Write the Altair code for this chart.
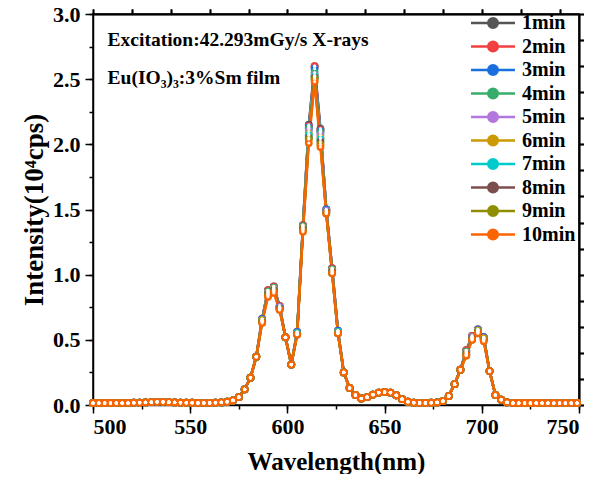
import altair as alt
import pandas as pd

wavelengths = list(range(500, 750, 3))
base_10min = [
    0.015, 0.015, 0.015, 0.015, 0.015, 0.015, 0.015, 0.017, 0.018, 0.020,
    0.022, 0.024, 0.024, 0.022, 0.020, 0.018, 0.017, 0.017, 0.016, 0.016,
    0.016, 0.017, 0.020, 0.025, 0.035, 0.060, 0.120, 0.210, 0.370, 0.630,
    0.830, 0.860, 0.730, 0.520, 0.310, 0.540, 1.330, 2.010, 2.480, 1.980,
    1.470, 1.010, 0.550, 0.250, 0.130, 0.077, 0.050, 0.060, 0.080, 0.095,
    0.100, 0.095, 0.075, 0.045, 0.025, 0.018, 0.016, 0.016, 0.017, 0.020,
    0.030, 0.070, 0.160, 0.270, 0.380, 0.500, 0.550, 0.490, 0.260, 0.077,
    0.040, 0.020, 0.015, 0.015, 0.015, 0.015, 0.015, 0.015, 0.015, 0.015,
    0.015, 0.015, 0.015, 0.015,
]
series_names = ["1min", "2min", "3min", "4min", "5min", "6min", "7min", "8min", "9min", "10min"]
colors = ["#555555", "#F24040", "#1A6FDF", "#37AD6B", "#B177DE",
          "#CC9900", "#00CBCC", "#7D4E4E", "#8E8E00", "#FB6501"]
peak_values = {
    587: [0.66, 0.66, 0.66, 0.65, 0.65, 0.65, 0.64, 0.64, 0.64, 0.63],
    590: [0.88, 0.88, 0.87, 0.87, 0.86, 0.86, 0.85, 0.85, 0.84, 0.83],
    593: [0.91, 0.91, 0.90, 0.90, 0.89, 0.89, 0.88, 0.88, 0.87, 0.86],
    596: [0.76, 0.76, 0.75, 0.75, 0.75, 0.74, 0.74, 0.74, 0.73, 0.73],
    605: [0.56, 0.56, 0.56, 0.55, 0.55, 0.55, 0.55, 0.54, 0.54, 0.54],
    608: [1.38, 1.38, 1.37, 1.37, 1.36, 1.36, 1.35, 1.35, 1.34, 1.33],
    611: [2.15, 2.14, 2.13, 2.12, 2.10, 2.08, 2.07, 2.05, 2.04, 2.01],
    614: [2.60, 2.60, 2.58, 2.55, 2.53, 2.52, 2.52, 2.51, 2.50, 2.48],
    617: [2.12, 2.11, 2.10, 2.09, 2.07, 2.05, 2.04, 2.02, 2.00, 1.98],
    620: [1.50, 1.50, 1.50, 1.49, 1.49, 1.48, 1.48, 1.48, 1.47, 1.47],
    623: [1.05, 1.05, 1.04, 1.04, 1.03, 1.03, 1.02, 1.02, 1.01, 1.01],
    626: [0.57, 0.57, 0.57, 0.56, 0.56, 0.56, 0.56, 0.55, 0.55, 0.55],
    692: [0.42, 0.42, 0.41, 0.41, 0.40, 0.40, 0.39, 0.39, 0.38, 0.38],
    695: [0.53, 0.53, 0.52, 0.52, 0.52, 0.51, 0.51, 0.51, 0.50, 0.50],
    698: [0.58, 0.58, 0.58, 0.57, 0.57, 0.57, 0.56, 0.56, 0.56, 0.55],
    701: [0.52, 0.52, 0.52, 0.51, 0.51, 0.51, 0.50, 0.50, 0.50, 0.49],
}
x_major = [500, 550, 600, 650, 700, 750]
x_minor = [500, 525, 550, 575, 600, 625, 650, 675, 700, 725, 750]
y_major = [0.0, 0.5, 1.0, 1.5, 2.0, 2.5, 3.0]
y_minor = [0.0, 0.25, 0.5, 0.75, 1.0, 1.25, 1.5, 1.75, 2.0, 2.25, 2.5, 2.75, 3.0]
annotations = ["Excitation:42.293mGy/s X-rays", "Eu(IO\u2083)\u2083:3%Sm film"]
annot_x = [507.5, 507.5]
annot_y = [2.80, 2.51]

rows = []
for i, name in enumerate(series_names):
    for wl, v in zip(wavelengths, base_10min):
        val = peak_values[wl][i] if wl in peak_values else v
        rows.append({"wl": wl, "I": val, "series": name, "order": i})
df = pd.DataFrame(rows)
annot_df = pd.DataFrame({"t": annotations, "wl": annot_x, "I": annot_y})

FONT = "Liberation Serif"
xscale = alt.Scale(domain=[500, 750], nice=False, zero=False)
yscale = alt.Scale(domain=[0, 3], nice=False)

x_axis = alt.Axis(values=x_major, title="Wavelength(nm)", tickSize=8, labelPadding=3,
                  titlePadding=12, format="d", grid=False, titleFontSize=25)
y_axis = alt.Axis(values=y_major, title="Intensity(10\u2074cps)", tickSize=8, labelPadding=5,
                  titlePadding=4, format=".1f", grid=False, titleFontSize=27)

sym_path = "M-4.4,0H-0.95M0.95,0H4.4M0.95,0A0.95,0.95,0,1,1,-0.95,0A0.95,0.95,0,1,1,0.95,0Z"
legend_kwargs = dict(
    title=None, orient="none", legendX=390, legendY=-1,
    labelFont=FONT, labelFontWeight="bold", labelFontSize=20, labelColor="black",
    symbolType=sym_path, symbolSize=100, symbolStrokeWidth=2.5, labelOffset=19,
    rowPadding=3.5, padding=0,
)

color_enc = alt.Color("series:N", scale=alt.Scale(domain=series_names, range=colors),
                      sort=series_names)


def build(with_encode):
    lk = dict(legend_kwargs)
    if with_encode:
        lk["encode"] = {"symbols": {"update": {
            "fill": {"scale": "color", "field": "value"},
            "stroke": {"scale": "color", "field": "value"},
            "fillOpacity": {"value": 1},
        }}}
    color_leg = color_enc.legend(alt.Legend(**lk))
    base = alt.Chart(df)
    lines = base.mark_line(strokeWidth=2.5).encode(
        x=alt.X("wl:Q", scale=xscale, axis=x_axis),
        y=alt.Y("I:Q", scale=yscale, axis=y_axis),
        color=color_leg,
        order=alt.Order("wl:Q"),
    )
    pts = base.mark_circle(size=62, opacity=1).encode(
        x=alt.X("wl:Q", scale=xscale),
        y=alt.Y("I:Q", scale=yscale),
        color=alt.Color("series:N", scale=alt.Scale(domain=series_names, range=colors),
                        sort=series_names, legend=None),
        order=alt.Order("order:Q"),
    )
    hl = base.mark_circle(size=10, color="white", opacity=0.9).encode(
        x=alt.X("wl:Q", scale=xscale),
        y=alt.Y("I:Q", scale=yscale),
    )
    txt = alt.Chart(annot_df).mark_text(align="left", baseline="middle", font=FONT,
                                        fontWeight="bold", fontSize=19.5, color="black").encode(
        x=alt.X("wl:Q", scale=xscale),
        y=alt.Y("I:Q", scale=yscale),
        text="t:N",
    )
    minor = alt.Chart(pd.DataFrame({"wl": [500], "I": [0]})).mark_point(opacity=0).encode(
        x=alt.X("wl:Q", scale=xscale,
                axis=alt.Axis(values=x_minor, labels=False, title=None, tickSize=4,
                              domain=False, grid=False, orient="bottom")),
        y=alt.Y("I:Q", scale=yscale,
                axis=alt.Axis(values=y_minor, labels=False, title=None, tickSize=4,
                              domain=False, grid=False, orient="left")),
    )
    chart = alt.layer(lines, pts, hl, txt, minor).resolve_axis(
        x="independent", y="independent"
    ).properties(
        width=486, height=391,
        padding={"left": 85, "top": 6, "right": 5, "bottom": 69},
        autosize=alt.AutoSizeParams(type="none"),
    ).configure_view(stroke="black", strokeWidth=1.5).configure_axis(
        labelFont=FONT, labelFontWeight="bold", labelFontSize=22, labelColor="black",
        titleFont=FONT, titleFontWeight="bold", titleColor="black",
        domainColor="black", domainWidth=1.5, tickColor="black", tickWidth=1.5,
    )
    chart.to_dict()
    return chart


try:
    chart = build(True)
except Exception:
    chart = build(False)

chart.save("out.html", embed_options={"renderer": "svg", "actions": False})
